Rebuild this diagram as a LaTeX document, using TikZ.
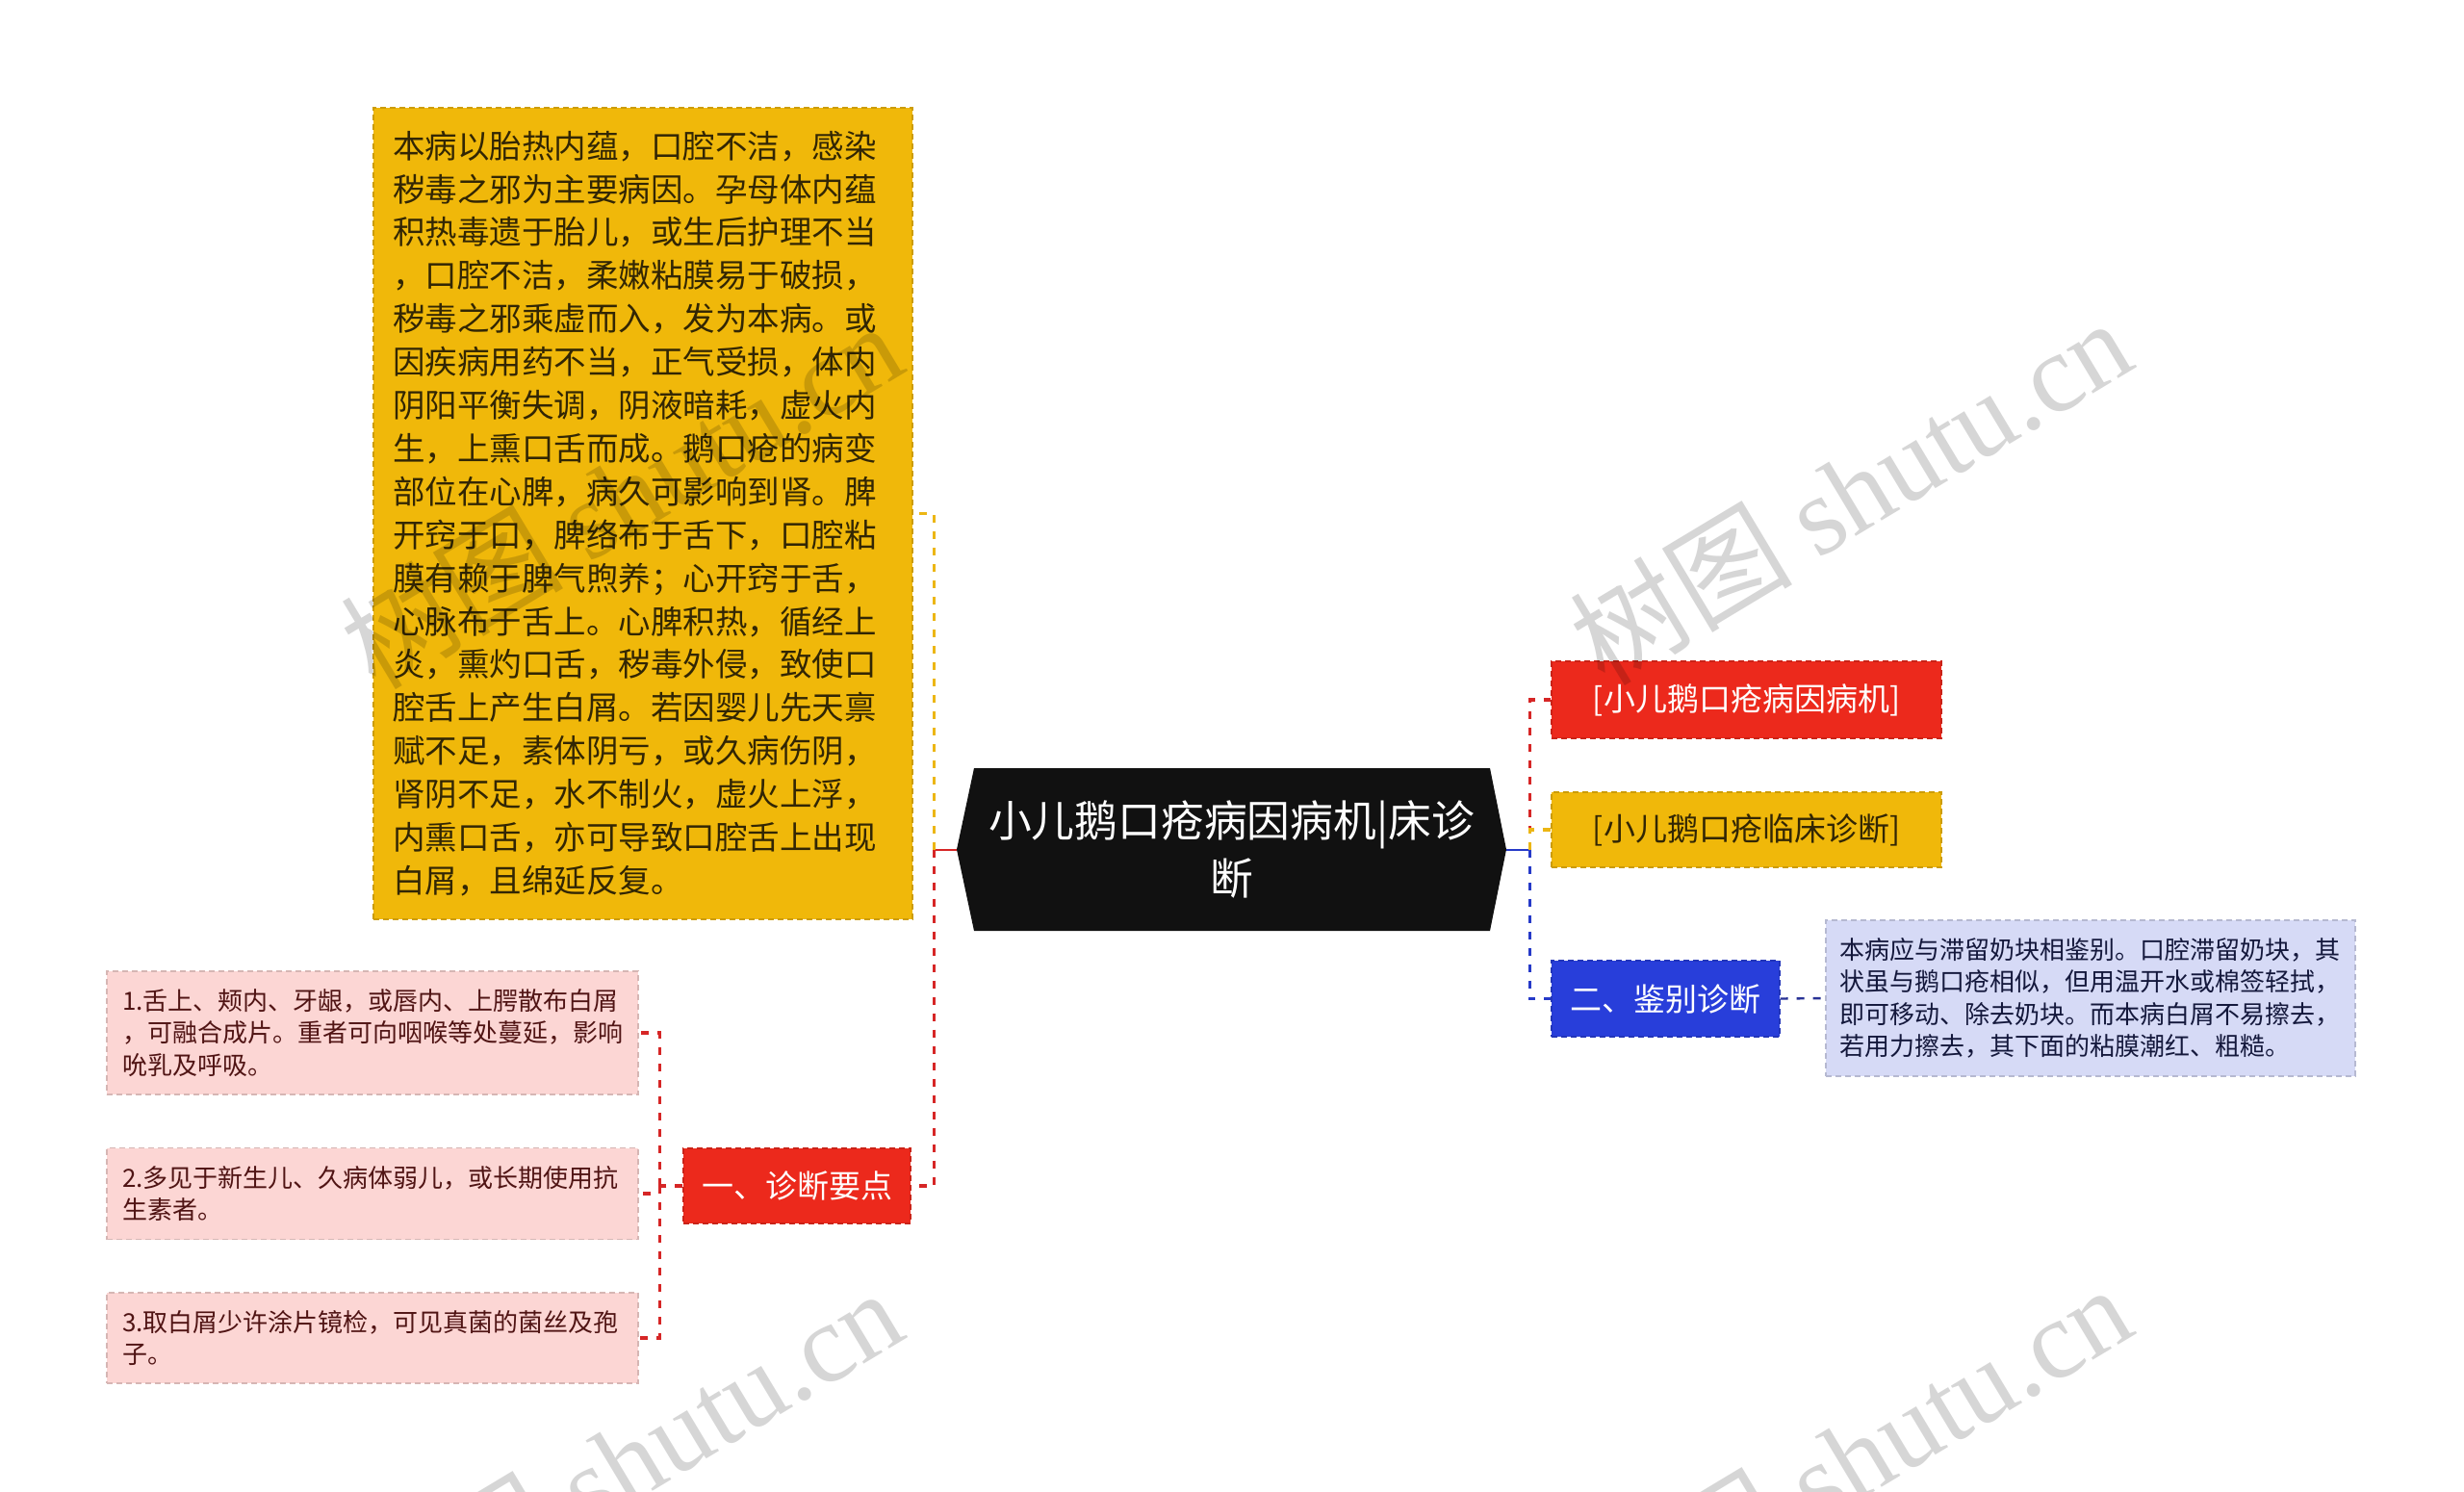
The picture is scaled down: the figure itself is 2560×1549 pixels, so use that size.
\documentclass[tikz,border=0pt]{standalone}
\usepackage{fontspec}
\setmainfont{Noto Sans CJK SC}
\newfontfamily\wmfont{Liberation Serif}
\usepackage{tikz}

\definecolor{rootbg}{RGB}{17,17,17}
\definecolor{redbg}{RGB}{236,41,28}
\definecolor{redln}{RGB}{214,38,38}
\definecolor{yelbg}{RGB}{240,184,10}
\definecolor{yelln}{RGB}{236,182,20}
\definecolor{bluebg}{RGB}{40,62,218}
\definecolor{blueln}{RGB}{38,58,200}
\definecolor{navyln}{RGB}{40,50,150}
\definecolor{lavbg}{RGB}{214,218,246}
\definecolor{pinkbg}{RGB}{252,214,212}
\definecolor{yeltxt}{RGB}{50,38,4}
\definecolor{pinktxt}{RGB}{80,20,20}
\definecolor{lavtxt}{RGB}{20,24,60}

\begin{document}
\begin{tikzpicture}[x=0.5pt, y=-0.5pt,
        box/.style = {inner sep=0pt, dash pattern=on 3pt off 2pt, line width=0.6pt},
        topic/.style = {box, font=\fontsize{16.5pt}{20pt}\selectfont, minimum height=40pt},
        note/.style = {box, font=\fontsize{13pt}{16.7pt}\selectfont, align=left},
        link/.style = {dash pattern=on 4pt off 4.5pt, line width=1.6pt}]
        \fill[white] (0,0) rectangle (2560,1549);
        \useasboundingbox (0,0) rectangle (2560,1549);

        \fill[rootbg] (1012,798) -- (1548,798) -- (1565,882.5) -- (1548,967) -- (1012,967) -- (994,882.5) -- cycle;
        \node[text=white, font=\fontsize{22.4pt}{30pt}\selectfont, align=center, inner sep=0pt,
              minimum width=285.5pt, minimum height=84.5pt] (root) at (1279.5,882.5) {小儿鹅口疮病因病机|床诊\\断};

        \node[topic, fill=redbg, draw=redbg!85!black, text=white, minimum width=202.5pt] (cause) at (1814.5,727) {[小儿鹅口疮病因病机]};
        \node[topic, fill=yelbg, draw=yelbg!85!black, text=yeltxt, minimum width=202.5pt, minimum height=39pt] (clinic) at (1814.5,862) {[小儿鹅口疮临床诊断]};
        \node[topic, fill=bluebg, draw=bluebg!85!black, text=white, minimum width=118.5pt, minimum height=39.5pt] (ident) at (1730.5,1037.5) {二、鉴别诊断};
        \node[topic, fill=redbg, draw=redbg!85!black, text=white, minimum width=118pt, minimum height=39pt] (diag) at (828,1232) {一、诊断要点};

        \node[note, fill=lavbg, draw=lavbg!85!black, text=lavtxt, text width=261pt, minimum width=275pt, minimum height=81pt] (identtxt) at (2172,1037) {本病应与滞留奶块相鉴别。口腔滞留奶块，其\\状虽与鹅口疮相似，但用温开水或棉签轻拭，\\即可移动、除去奶块。而本病白屑不易擦去，\\若用力擦去，其下面的粘膜潮红、粗糙。};

        \node[note, fill=yelbg, draw=yelbg!85!black, text=yeltxt, font=\fontsize{16.75pt}{22.45pt}\selectfont,
              text width=260pt, minimum width=280pt, minimum height=421.5pt] (etio) at (668,533.5) {本病以胎热内蕴，口腔不洁，感染\\秽毒之邪为主要病因。孕母体内蕴\\积热毒遗于胎儿，或生后护理不当\\，口腔不洁，柔嫩粘膜易于破损，\\秽毒之邪乘虚而入，发为本病。或\\因疾病用药不当，正气受损，体内\\阴阳平衡失调，阴液暗耗，虚火内\\生，上熏口舌而成。鹅口疮的病变\\部位在心脾，病久可影响到肾。脾\\开窍于口，脾络布于舌下，口腔粘\\膜有赖于脾气煦养；心开窍于舌，\\心脉布于舌上。心脾积热，循经上\\炎，熏灼口舌，秽毒外侵，致使口\\腔舌上产生白屑。若因婴儿先天禀\\赋不足，素体阴亏，或久病伤阴，\\肾阴不足，水不制火，虚火上浮，\\内熏口舌，亦可导致口腔舌上出现\\白屑，且绵延反复。};

        \node[note, fill=pinkbg, draw=pinkbg!85!black, text=pinktxt, text width=260pt, minimum width=276pt, minimum height=64pt] (pt1) at (387,1073) {1.舌上、颊内、牙龈，或唇内、上腭散布白屑\\，可融合成片。重者可向咽喉等处蔓延，影响\\吮乳及呼吸。};
        \node[note, fill=pinkbg, draw=pinkbg!85!black, text=pinktxt, text width=260pt, minimum width=276pt, minimum height=47.5pt] (pt2) at (387,1240) {2.多见于新生儿、久病体弱儿，或长期使用抗\\生素者。};
        \node[note, fill=pinkbg, draw=pinkbg!85!black, text=pinktxt, text width=260pt, minimum width=276pt, minimum height=47pt] (pt3) at (387,1390) {3.取白屑少许涂片镜检，可见真菌的菌丝及孢\\子。};

        \draw[line width=1pt, redln] (root.west) -- ++(-23,0) coordinate (lj);
        \draw[link, yelln] (lj) |- (etio.east);
        \draw[link, redln] (lj) |- (diag.east);

        \draw[line width=1pt, blueln] (root.east) -- ++(24,0) coordinate (rj);
        \draw[link, redln] (rj) |- (cause.west);
        \draw[link, yelln] (rj) |- (clinic.west);
        \draw[link, blueln] (rj) |- (ident.west);
        \draw[link, navyln, line width=1.2pt] (ident.east) -- (identtxt.west);

        \draw[link, redln] (diag.west) -- ++(-24,0) coordinate (dj);
        \draw[link, redln] (dj) |- (pt1.east);
        \draw[link, redln] (dj) |- (pt2.east);
        \draw[link, redln] (dj) |- (pt3.east);

        \begin{scope}
        \clip (0,0) rectangle (2560,1549);
        \foreach \wx/\wy in {645/514, 1922/510, 645/1518, 1922/1514}
                \node[rotate=31, opacity=0.16, font=\fontsize{58pt}{62pt}\selectfont] at (\wx,\wy) {树图 {\wmfont shutu.cn}};
        \end{scope}
\end{tikzpicture}
\end{document}
